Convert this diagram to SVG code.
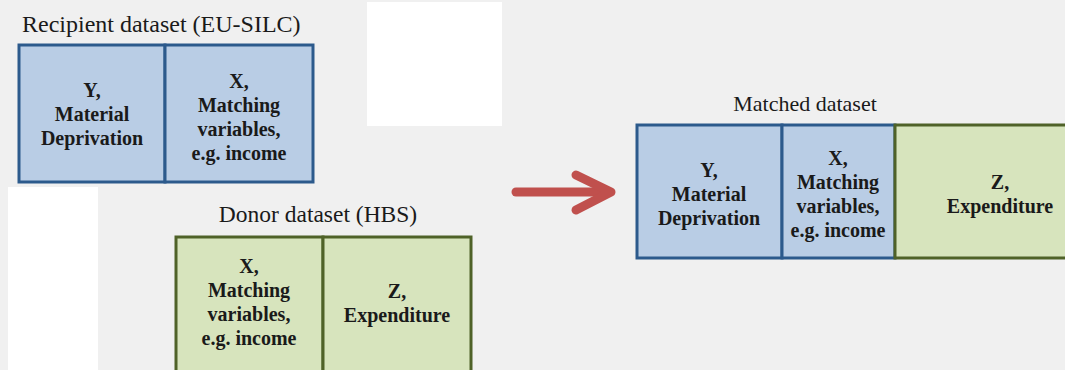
<svg xmlns="http://www.w3.org/2000/svg" width="1065" height="370" viewBox="0 0 1065 370">
  <style>
    .title { font-size: 24px; fill: #1a1a1a; }
    .cell { font-size: 20px; font-weight: bold; fill: #1a1a1a; text-anchor: middle; }
    .blue { fill: #b9cde5; stroke: #2c5a8c; stroke-width: 3; }
    .green { fill: #d7e4bd; stroke: #4f6228; stroke-width: 3; }
    .arrow { fill: none; stroke: #c0504d; stroke-width: 9; stroke-linecap: round; stroke-linejoin: round; }
  </style>

  <!-- page background and blank panels -->
  <rect x="0" y="0" width="1065" height="370" fill="#f0f0f0"/>
  <rect x="367" y="2" width="135" height="124" fill="#ffffff"/>
  <rect x="8" y="187" width="90" height="183" fill="#ffffff"/>

  <g font-family="'Liberation Serif', 'DejaVu Serif', serif">
  <!-- recipient dataset -->
  <g id="recipient">
    <text class="title" x="22" y="32">Recipient dataset (EU-SILC)</text>
    <rect class="blue" x="19" y="45" width="146" height="137"/>
    <rect class="blue" x="165" y="45" width="148" height="137"/>
    <text class="cell" x="92" y="97">Y,</text>
    <text class="cell" x="92" y="121">Material</text>
    <text class="cell" x="92" y="145">Deprivation</text>
    <text class="cell" x="239" y="88">X,</text>
    <text class="cell" x="239" y="112">Matching</text>
    <text class="cell" x="239" y="136">variables,</text>
    <text class="cell" x="239" y="160">e.g. income</text>
  </g>

  <!-- donor dataset -->
  <g id="donor">
    <text class="title" x="318" y="222" text-anchor="middle" style="font-size:23.5px">Donor dataset (HBS)</text>
    <rect class="green" x="176" y="237" width="147" height="150"/>
    <rect class="green" x="323" y="237" width="148" height="150"/>
    <text class="cell" x="249" y="273">X,</text>
    <text class="cell" x="249" y="297">Matching</text>
    <text class="cell" x="249" y="321">variables,</text>
    <text class="cell" x="249" y="345">e.g. income</text>
    <text class="cell" x="397" y="298">Z,</text>
    <text class="cell" x="397" y="322">Expenditure</text>
  </g>

  <!-- matched dataset -->
  <g id="matched">
    <text class="title" x="805" y="111" text-anchor="middle" style="font-size:22px">Matched dataset</text>
    <rect class="blue" x="637" y="125" width="145" height="133"/>
    <rect class="blue" x="782" y="125" width="113" height="133"/>
    <rect class="green" x="895" y="125" width="190" height="133"/>
    <text class="cell" x="709" y="177">Y,</text>
    <text class="cell" x="709" y="201">Material</text>
    <text class="cell" x="709" y="225">Deprivation</text>
    <text class="cell" x="838" y="165">X,</text>
    <text class="cell" x="838" y="189">Matching</text>
    <text class="cell" x="838" y="213">variables,</text>
    <text class="cell" x="838" y="237">e.g. income</text>
    <text class="cell" x="1000" y="189">Z,</text>
    <text class="cell" x="1000" y="213">Expenditure</text>
  </g>
  </g>

  <!-- connector -->
  <g id="connectors">
    <path class="arrow" d="M516 192 H606"/>
    <path class="arrow" d="M576 175 L611 192 L576 210"/>
  </g>
</svg>
